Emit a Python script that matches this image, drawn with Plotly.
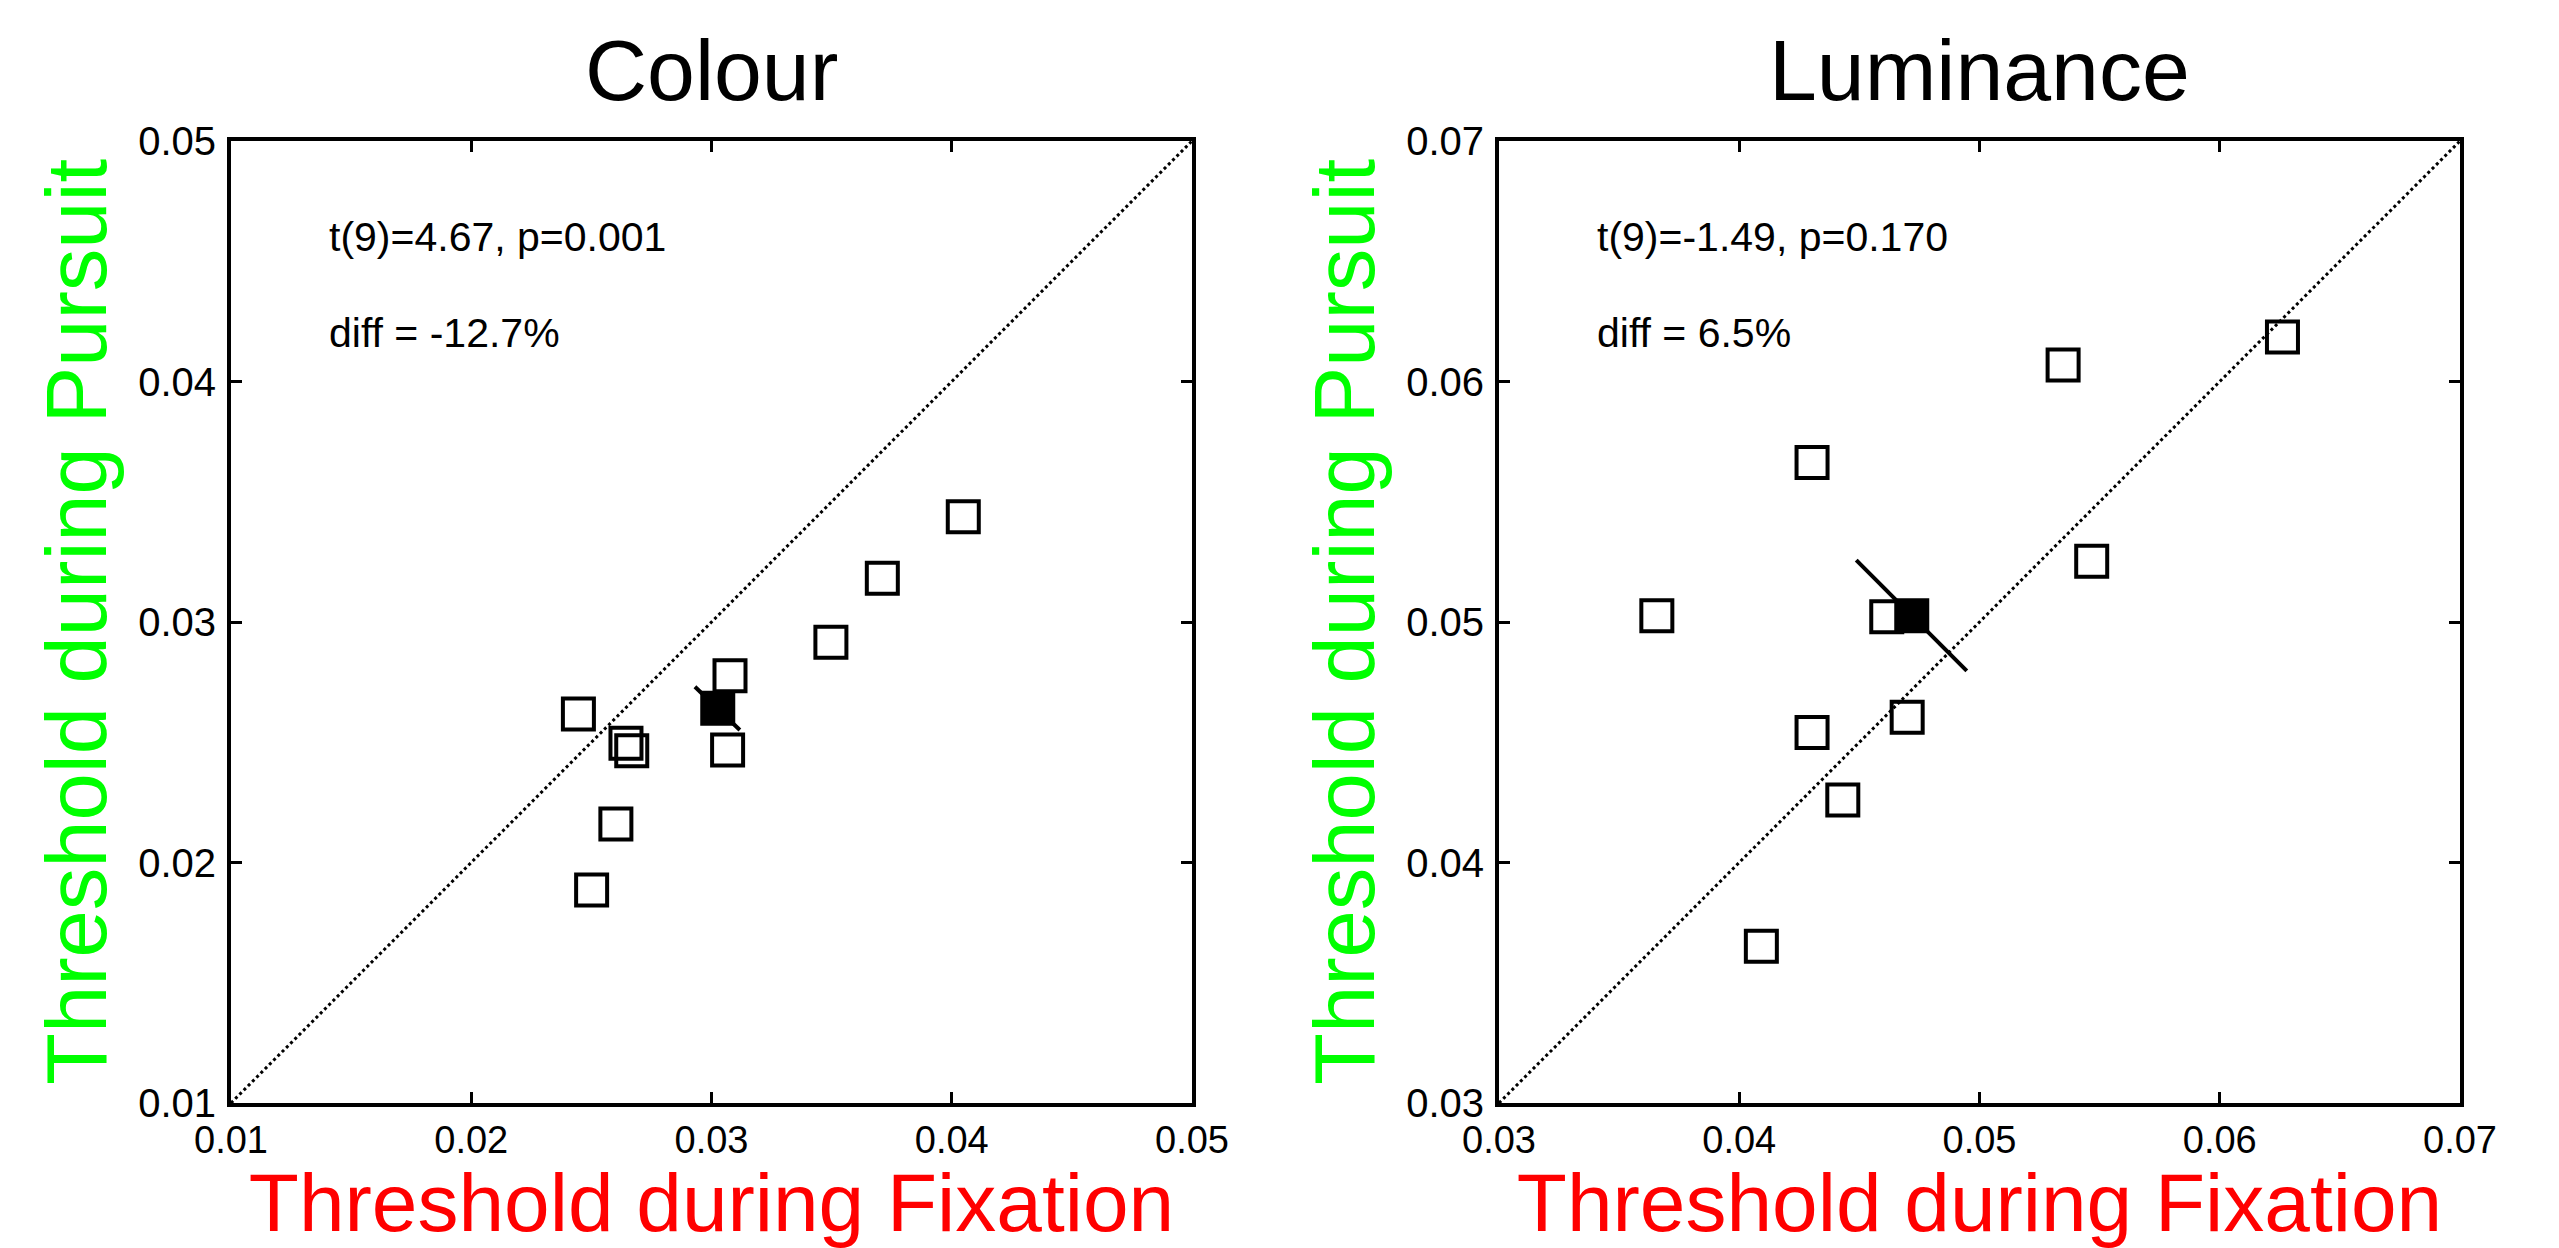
import plotly.graph_objects as go

# ---------------- data ----------------
colour_fix = [0.02446, 0.02501, 0.02602, 0.02644, 0.02668, 0.03067, 0.03077, 0.03497, 0.03711, 0.04048]
colour_pur = [0.02617, 0.01886, 0.02160, 0.02496, 0.02465, 0.02468, 0.02777, 0.02916, 0.03182, 0.03438]
colour_mean = [0.03026, 0.02641]
colour_err_x = [0.02931, 0.03118]
colour_err_y = [0.02731, 0.02551]

lum_fix = [0.03657, 0.04092, 0.04303, 0.04303, 0.04431, 0.04614, 0.04699, 0.05348, 0.05467, 0.06261]
lum_pur = [0.05026, 0.03652, 0.05663, 0.04541, 0.04260, 0.05022, 0.04604, 0.06069, 0.05253, 0.06185]
lum_mean = [0.04718, 0.05026]
lum_err_x = [0.04487, 0.04947]
lum_err_y = [0.05257, 0.04797]

colour_range = [0.01, 0.05]
lum_range = [0.03, 0.07]
colour_ticks = [0.01, 0.02, 0.03, 0.04, 0.05]
colour_ticktext = ["0.01", "0.02", "0.03", "0.04", "0.05"]
lum_ticks = [0.03, 0.04, 0.05, 0.06, 0.07]
lum_ticktext = ["0.03", "0.04", "0.05", "0.06", "0.07"]

panel_titles = ["Colour", "Luminance"]
stats_text = [["t(9)=4.67, p=0.001", "diff = -12.7%"], ["t(9)=-1.49, p=0.170", "diff = 6.5%"]]
x_title = "Threshold during Fixation"
y_title = "Threshold during Pursuit"

# ---------------- figure ----------------
W, H = 2559, 1248
FONT = "Liberation Sans, Arial, Helvetica, sans-serif"

fig = go.Figure()

panels = [
    dict(fix=colour_fix, pur=colour_pur, mean=colour_mean, ex=colour_err_x, ey=colour_err_y,
         rng=colour_range, ticks=colour_ticks, tt=colour_ticktext, xa="x", ya="y"),
    dict(fix=lum_fix, pur=lum_pur, mean=lum_mean, ex=lum_err_x, ey=lum_err_y,
         rng=lum_range, ticks=lum_ticks, tt=lum_ticktext, xa="x2", ya="y2"),
]

for p in panels:
    fig.add_trace(go.Scatter(x=p["rng"], y=p["rng"], mode="lines",
                             line=dict(color="black", width=3, dash="dot"),
                             xaxis=p["xa"], yaxis=p["ya"], showlegend=False, hoverinfo="skip"))
    fig.add_trace(go.Scatter(x=p["fix"], y=p["pur"], mode="markers",
                             marker=dict(symbol="square-open", size=31, color="black",
                                         line=dict(color="black", width=4)),
                             xaxis=p["xa"], yaxis=p["ya"], showlegend=False))
    fig.add_trace(go.Scatter(x=p["ex"], y=p["ey"], mode="lines",
                             line=dict(color="black", width=4),
                             xaxis=p["xa"], yaxis=p["ya"], showlegend=False, hoverinfo="skip"))
    fig.add_trace(go.Scatter(x=[p["mean"][0]], y=[p["mean"][1]], mode="markers",
                             marker=dict(symbol="square", size=32, color="black",
                                         line=dict(color="black", width=3)),
                             xaxis=p["xa"], yaxis=p["ya"], showlegend=False))

xdom = [[231 / W, 1192 / W], [1499 / W, 2460 / W]]
ydom = [1 - 1103 / H, 1 - 141 / H]


def axis_common(rng, ticks, tt, fs):
    return dict(range=rng, tickmode="array", tickvals=ticks, ticktext=tt,
                ticks="inside", ticklen=11, tickwidth=3, tickcolor="black",
                showline=True, linewidth=4, linecolor="black", mirror="allticks",
                showgrid=False, zeroline=False, automargin=False,
                tickfont=dict(family=FONT, size=fs, color="black"))


layout = dict(width=W, height=H, margin=dict(l=0, r=0, t=0, b=0),
              paper_bgcolor="white", plot_bgcolor="white", template="none",
              font=dict(family=FONT, color="black"), showlegend=False)

for i, p in enumerate(panels):
    sx = "xaxis" if i == 0 else "xaxis2"
    sy = "yaxis" if i == 0 else "yaxis2"
    xa = axis_common(p["rng"], p["ticks"], p["tt"], 38)
    xa.update(domain=xdom[i], anchor=p["ya"], ticklabelstandoff=0,
              title=dict(text=x_title, font=dict(family=FONT, size=82, color="#ff0000"), standoff=26))
    ya = axis_common(p["rng"], p["ticks"], p["tt"], 40)
    ya.update(domain=ydom, anchor=p["xa"], ticklabelstandoff=3,
              title=dict(text=y_title, font=dict(family=FONT, size=85, color="#00ff00"), standoff=4))
    layout[sx] = xa
    layout[sy] = ya

fig.update_layout(**layout)

for i, p in enumerate(panels):
    cx = (xdom[i][0] + xdom[i][1]) / 2
    fig.add_annotation(x=cx, y=1 - 70 / H, xref="paper", yref="paper", text=panel_titles[i],
                       showarrow=False, xanchor="center", yanchor="middle",
                       font=dict(family=FONT, size=86, color="black"))
    lo = p["rng"][0]
    for j, txt in enumerate(stats_text[i]):
        fig.add_annotation(x=lo + 0.004, y=lo + 0.036 - 0.004 * j, xref=p["xa"], yref=p["ya"],
                           text=txt, showarrow=False, xanchor="left", yanchor="middle",
                           font=dict(family=FONT, size=41, color="black"))

fig.write_html("out.html")
